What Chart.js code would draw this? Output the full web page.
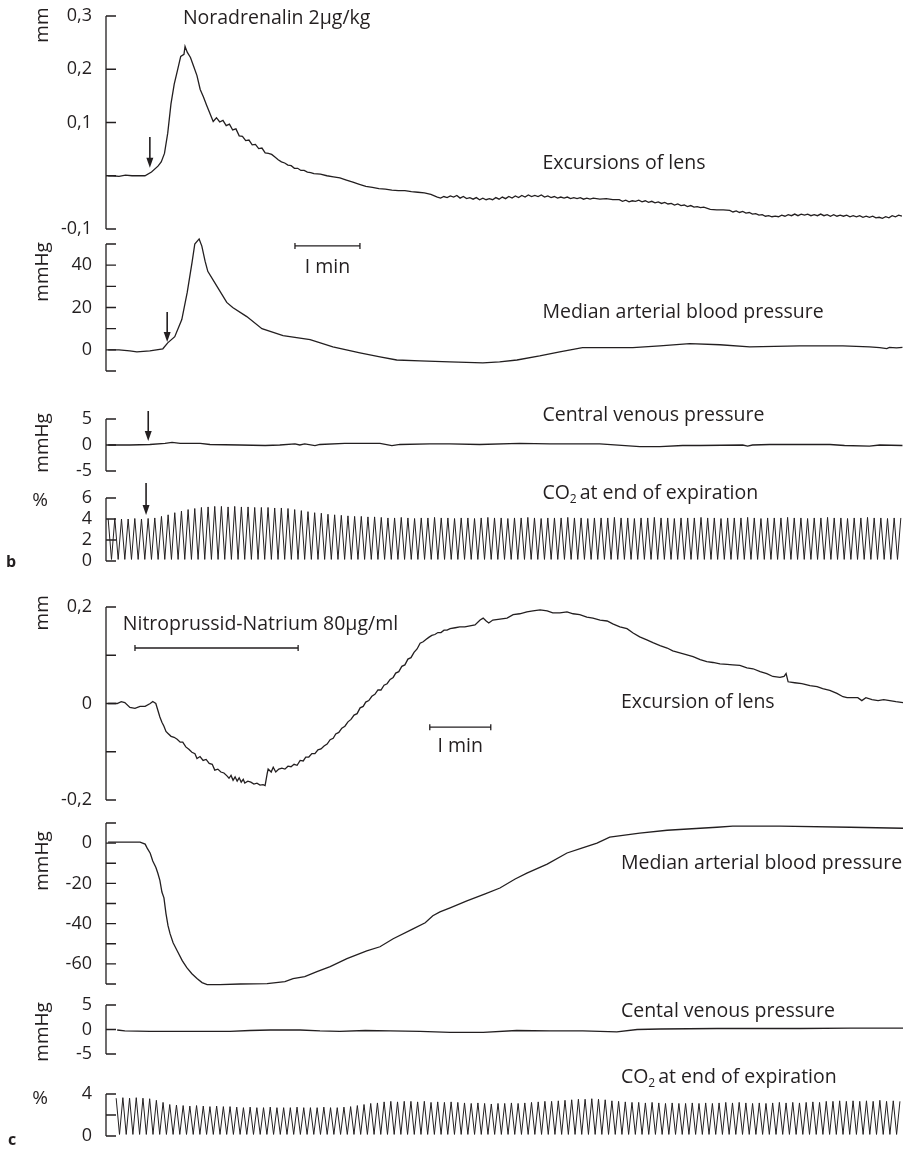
<!DOCTYPE html>
<html>
<head>
<meta charset="utf-8">
<script src="https://cdn.jsdelivr.net/npm/chart.js@4.4.1/dist/chart.umd.min.js"></script>
<style>
  html, body { margin: 0; padding: 0; background: #fff; }
  #figure { position: relative; width: 905px; height: 1149px; overflow: hidden; background: #fff; }
  #figure canvas { position: absolute; left: 0; }
</style>
</head>
<body>
<div id="figure"></div>
<script>
// ---------- b: Noradrenalin 2µg/kg  (time in s, [t, value]) ----------
const lensNoradrenalin = [
  [2,0],[6,0],[12,-0.001],[18,0.001],[24,0],[30,0],[36,0],[42,0.007],[48,0.018],[51,0.026],[54,0.042],[57,0.08],
  [60,0.135],[63,0.172],[66,0.198],[69,0.224],[72,0.228],[73,0.243],[75,0.232],[78,0.222],[81,0.205],[84,0.188],
  [87,0.162],[90,0.148],[93,0.132],[96,0.117],[99,0.102],[102,0.109],[105,0.101],[108,0.104],[111,0.094],[114,0.097],
  [117,0.086],[120,0.088],[123,0.075],[126,0.074],[129,0.066],[132,0.067],[135,0.058],[138,0.059],[141,0.051],[144,0.052],
  [147,0.043],[150,0.042],[153,0.040],[156,0.035],[159,0.030],[162,0.026],[165,0.024],[168,0.020],[171,0.019],[174,0.014],
  [177,0.014],[180,0.010],[183,0.010],[186,0.007],[189,0.006],[192,0.004],[198,0.003],[204,0],[210,-0.002],[216,-0.004],
  [222,-0.008],[228,-0.012],[234,-0.016],[240,-0.020],[246,-0.022],[252,-0.024],[258,-0.025],[264,-0.027],[270,-0.028],
  [276,-0.028],[282,-0.030],[288,-0.031],[294,-0.032],[300,-0.035],[306,-0.040],[309,-0.042],[312,-0.039],[315,-0.041],
  [318,-0.038],[321,-0.040],[324,-0.037],[327,-0.042],[330,-0.039],[333,-0.043],[336,-0.041],[339,-0.044],[342,-0.041],
  [345,-0.045],[348,-0.042],[351,-0.045],[354,-0.043],[357,-0.045],[360,-0.041],[363,-0.044],[366,-0.040],[369,-0.043],
  [372,-0.039],[375,-0.042],[378,-0.038],[381,-0.041],[384,-0.037],[387,-0.040],[390,-0.036],[393,-0.039],[396,-0.037],
  [399,-0.039],[402,-0.036],[405,-0.040],[408,-0.038],[411,-0.041],[414,-0.039],[417,-0.042],[420,-0.040],[423,-0.042],
  [426,-0.040],[429,-0.043],[432,-0.041],[435,-0.043],[438,-0.041],[441,-0.044],[444,-0.042],[447,-0.044],[450,-0.042],
  [456,-0.044],[462,-0.043],[468,-0.045],[474,-0.045],[477,-0.048],[480,-0.046],[483,-0.049],[486,-0.047],[489,-0.048],
  [492,-0.046],[495,-0.049],[498,-0.047],[501,-0.050],[504,-0.048],[507,-0.051],[510,-0.049],[513,-0.052],[516,-0.050],
  [519,-0.053],[522,-0.052],[525,-0.055],[528,-0.053],[531,-0.056],[534,-0.055],[537,-0.058],[540,-0.056],[543,-0.059],
  [546,-0.058],[549,-0.060],[552,-0.059],[558,-0.063],[564,-0.064],[570,-0.064],[576,-0.065],[579,-0.068],[582,-0.066],
  [585,-0.069],[588,-0.067],[591,-0.070],[594,-0.069],[597,-0.072],[600,-0.071],[603,-0.074],[606,-0.073],[609,-0.076],
  [612,-0.075],[615,-0.077],[618,-0.076],[621,-0.077],[624,-0.074],[627,-0.076],[630,-0.073],[633,-0.075],[636,-0.072],
  [639,-0.075],[642,-0.072],[645,-0.074],[648,-0.072],[651,-0.075],[654,-0.073],[657,-0.075],[660,-0.072],[663,-0.075],
  [666,-0.073],[669,-0.076],[672,-0.073],[675,-0.076],[678,-0.074],[681,-0.076],[684,-0.074],[687,-0.077],[690,-0.075],
  [693,-0.077],[696,-0.075],[699,-0.078],[702,-0.076],[705,-0.078],[708,-0.076],[711,-0.079],[714,-0.078],[717,-0.080],
  [720,-0.077],[723,-0.079],[726,-0.075],[729,-0.077],[732,-0.074],[735,-0.076]
];
const mapNoradrenalin = [
  [2,0],[12,0],[22,-0.5],[28.5,-1],[40.5,-0.5],[52.5,0.5],[57,3.3],[63.5,6.2],[70,14.3],[75,27.1],[79.5,41.4],[82,50],
  [86,52.4],[88.5,49],[91.5,41.9],[94,37.1],[102.5,30],[111.5,22.4],[117,20],[130,15.7],[144,10],[163.5,6.7],[188.5,4.8],
  [209.5,1.4],[234.5,-1.4],[253,-3.3],[268.5,-4.8],[290,-5.2],[317.5,-5.7],[348,-6.2],[363.5,-5.7],[379.5,-4.8],
  [400.5,-2.9],[419,-1],[440,1],[486.5,1],[511.5,1.9],[539,2.9],[567,2.4],[594.5,1.4],[640.5,1.9],[680.5,1.9],
  [705,1.4],[714.5,1],[721,0.6],[723.5,1.2],[730,0.9],[735.5,1.2]
];
const cvpNoradrenalin = [
  [2,0],[22,0],[40.5,0.1],[54.5,0.3],[61,0.5],[68.5,0.3],[87,0.3],[96,0.1],[123.5,0],[147,-0.1],[160.5,0],[174.5,0.2],
  [179,0],[183.5,0.2],[193,-0.1],[197.5,0.1],[220.5,0.3],[253,0.3],[264,-0.1],[271.5,0.1],[299,0.2],[317.5,0.2],
  [345,0.1],[382,0.3],[410,0.2],[456,0.2],[493,-0.3],[511.5,-0.3],[532.5,-0.1],[548.5,-0.1],[588,0],[592.5,-0.2],
  [597,0],[613,0.1],[640.5,0.1],[668.5,0.1],[682,-0.1],[705,-0.2],[714.5,0],[735.5,-0.1]
];
// end-expiratory CO2: one peak per breath, trough between breaths
const co2NoradrenalinPeaks = [
  4.0,4.05,4.0,4.0,4.05,4.0,4.05,4.1,4.25,4.4,4.6,4.75,4.9,5.0,5.1,5.15,5.2,5.2,5.15,5.2,
  5.15,5.15,5.1,5.1,5.1,5.05,5.05,5.0,4.9,4.8,4.7,4.6,4.55,4.45,4.4,4.35,4.3,4.25,4.25,4.2,
  4.2,4.15,4.1,4.1,4.15,4.1,4.05,4.1,4.1,4.15,4.1,4.1,4.05,4.1,4.1,4.05,4.1,4.15,4.1,4.1,
  4.05,4.1,4.1,4.15,4.1,4.05,4.1,4.1,4.1,4.15,4.1,4.1,4.05,4.1,4.1,4.1,4.15,4.1,4.1,4.05,
  4.1,4.1,4.15,4.1,4.1,4.05,4.1,4.1,4.1,4.15,4.1,4.1,4.05,4.1,4.1,4.1,4.15,4.1,4.05,4.1,
  4.1,4.1,4.15,4.1,4.1,4.05,4.1,4.1,4.15,4.1,4.1,4.05,4.1,4.1,4.15,4.1,4.1,4.05,4.1,4.1
];
const co2NoradrenalinTrough = 0.15;
const co2NoradrenalinSpan = [2, 734];

// ---------- c: Nitroprussid-Natrium 80µg/ml ----------
const lensNitroprussid = [
  [2,0],[11,0],[15,0.004],[18.5,0.002],[23.5,-0.008],[28.5,-0.010],[33.5,-0.006],[38.5,-0.006],[43.5,0],[46,0.004],
  [49,0],[51,-0.014],[53,-0.028],[55,-0.039],[57,-0.047],[59,-0.058],[61,-0.062],[64,-0.068],[67,-0.070],[70,-0.074],
  [73,-0.080],[75.5,-0.080],[78.5,-0.090],[81.5,-0.095],[84.5,-0.101],[87.5,-0.104],[89.5,-0.114],[92.5,-0.110],
  [95.5,-0.118],[98.5,-0.116],[101.5,-0.124],[104.5,-0.126],[107,-0.138],[110,-0.136],[113,-0.142],[116,-0.144],
  [119,-0.150],[121,-0.155],[123,-0.149],[125,-0.159],[127,-0.152],[129,-0.161],[131,-0.154],[133,-0.163],[135,-0.157],
  [136.5,-0.165],[139.5,-0.161],[142.5,-0.163],[145.5,-0.167],[148.5,-0.165],[151.5,-0.169],[154.5,-0.168],[156.5,-0.170],
  [158.5,-0.146],[159.5,-0.136],[162.5,-0.142],[164.5,-0.132],[167,-0.142],[170,-0.136],[173,-0.134],[176,-0.136],
  [179,-0.130],[182,-0.131],[185,-0.126],[188,-0.128],[191,-0.118],[194,-0.119],[196.5,-0.111],[199.5,-0.111],
  [202.5,-0.104],[205.5,-0.104],[208.5,-0.096],[211.5,-0.094],[214.5,-0.088],[217.5,-0.084],[220.5,-0.075],[223.5,-0.072],
  [226,-0.063],[229,-0.060],[232,-0.051],[235,-0.047],[238,-0.038],[241,-0.033],[244,-0.024],[247,-0.021],[250,-0.009],
  [253,-0.006],[255.5,0.003],[258.5,0.006],[261.5,0.015],[264.5,0.019],[267.5,0.028],[270.5,0.028],[273.5,0.038],
  [276.5,0.041],[279.5,0.050],[282.5,0.054],[285,0.063],[288,0.066],[291,0.077],[294,0.080],[297,0.092],[300,0.095],
  [303,0.106],[306,0.113],[309,0.125],[312,0.128],[315,0.133],[317.5,0.137],[320.5,0.141],[323.5,0.143],[326.5,0.147],
  [329.5,0.147],[332.5,0.152],[335.5,0.152],[338.5,0.155],[343.5,0.157],[348,0.159],[353,0.159],[358,0.161],[363,0.163],
  [368,0.173],[371,0.177],[374,0.171],[376.5,0.167],[380.5,0.173],[387.5,0.175],[394.5,0.177],[400.5,0.184],[407,0.186],
  [414,0.190],[420,0.192],[427,0.194],[434,0.192],[439.5,0.188],[446.5,0.188],[453.5,0.190],[459.5,0.186],[466,0.184],
  [473,0.179],[479,0.177],[486,0.173],[493,0.171],[498.5,0.165],[505.5,0.159],[512.5,0.155],[518.5,0.146],[525,0.138],
  [532,0.132],[538,0.126],[545,0.120],[552,0.115],[557.5,0.109],[564.5,0.105],[571.5,0.101],[577.5,0.097],[584.5,0.091],
  [591,0.087],[597,0.085],[604,0.082],[611,0.081],[616.5,0.080],[623.5,0.079],[630.5,0.074],[636.5,0.072],[643.5,0.066],
  [650,0.062],[656,0.056],[663,0.054],[667,0.056],[669,0.062],[671,0.045],[677.5,0.043],[684.5,0.041],[692.5,0.037],
  [699.5,0.035],[705,0.031],[712,0.027],[719,0.021],[725,0.014],[729,0.012],[735,0.012],[739.5,0.012],[743.5,0.006],
  [747.5,0.012],[753.5,0.008],[759.5,0.006],[765,0.008],[771,0.006],[777,0.004],[784,0.002]
];
const mapNitroprussid = [
  [2,0.5],[11,0.5],[33.5,0.5],[38.5,-0.5],[40.5,-2.5],[43.5,-5],[46,-8.9],[49,-12],[51,-15],[53,-18.5],[55,-24.3],
  [57,-27.2],[59,-35],[61,-41],[63,-45],[66,-49.5],[70,-53.5],[75,-58.4],[79.5,-61.9],[84.5,-64.9],[89.5,-67.3],
  [94.5,-69.3],[99.5,-70.3],[112,-70.3],[132,-70],[158.5,-69.8],[176,-68.8],[184,-67.3],[195.5,-66.3],[207.5,-63.9],
  [220.5,-61.4],[237,-57.4],[256.5,-53.5],[269.5,-51.5],[282.5,-47.5],[302,-42.6],[314,-39.6],[321.5,-36.1],
  [328.5,-34.2],[338.5,-32.2],[355,-28.7],[373,-25.2],[387.5,-22.3],[402.5,-17.8],[414,-14.9],[434,-10.4],
  [453.5,-4.9],[468,-2.5],[483,0],[495.5,3],[525,5],[552,6.4],[584.5,7.4],[601,7.9],[616.5,8.4],[663,8.4],[732,7.9],[784,7.4]
];
const cvpNitroprussid = [
  [11,-0.1],[18.5,-0.3],[43.5,-0.4],[92.5,-0.4],[122,-0.4],[141.5,-0.2],[161.5,-0.1],[191,-0.1],[210.5,-0.3],[230,-0.4],
  [255,-0.2],[279.5,-0.3],[309,-0.4],[338.5,-0.6],[371,-0.6],[404,-0.2],[436.5,-0.3],[469,-0.3],[502.5,-0.5],
  [522.5,0],[545,0.1],[601,0.2],[682.5,0.2],[732,0.3],[784,0.3]
];
const co2NitroprussidPeaks = [
  3.6,3.65,3.6,3.65,3.6,3.55,3.4,3.2,3.0,2.95,2.9,2.85,2.9,2.85,2.8,2.85,2.8,2.8,
  2.75,2.7,2.75,2.7,2.7,2.75,2.7,2.7,2.7,2.75,2.7,2.7,2.7,2.75,2.7,2.7,2.75,2.8,
  2.9,3.0,3.1,3.15,3.25,3.3,3.25,3.3,3.3,3.25,3.3,3.2,3.25,3.2,3.25,
  3.2,3.15,3.1,3.15,3.1,3.05,3.1,3.1,3.15,3.1,3.15,3.2,
  3.25,3.3,3.3,3.35,3.4,3.45,3.5,3.5,3.55,3.5,3.45,3.35,3.3,
  3.25,3.2,3.2,3.15,3.2,3.15,3.1,3.15,3.1,3.1,3.15,3.1,3.15,3.1,3.15,3.2,3.15,3.2,3.15,3.1,3.15,
  3.1,3.15,3.2,3.15,3.2,3.15,3.2,3.25,3.2,3.3,3.3,3.35,3.3,3.35,3.3,3.35,3.3,3.4,3.3,3.35,3.3
];
const co2NitroprussidTrough = 0.15;
const co2NitroprussidSpan = [10, 781];

// labelled ticks on each axis
const ticksLensB = [0.3, 0.2, 0.1, -0.1];
const ticksMapB = [0, 20, 40];
const ticksCvp = [5, 0, -5];
const ticksCo2B = [0, 2, 4, 6];
const ticksLensC = [0.2, 0, -0.2];
const ticksMapC = [0, -20, -40, -60];
const ticksCo2C = [4, 0];

const INK = '#231f20';
const FONT = '"Open Sans", "Noto Sans", sans-serif';
const NOTE_SIZE = 19.5;

function pairs(list) {
    return list.map(function(p) { return { x: p[0], y: p[1] }; });
}

function breaths(peaks, trough, span) {
    var step = (span[1] - span[0]) / (peaks.length - 1);
    var pts = [];
    peaks.forEach(function(p, i) {
        var t = span[0] + i * step;
        pts.push({ x: t, y: p });
        if (i < peaks.length - 1) pts.push({ x: t + step / 2, y: trough });
    });
    return pts;
}

function tickLabel(labelled, decimals) {
    return function(v) {
        if (!labelled.some(function(l) { return Math.abs(l - v) < 1e-6; })) return '';
        if (Math.abs(v) < 1e-9) return '0';
        return decimals ? v.toFixed(decimals).replace('.', ',') : String(Math.round(v));
    };
}

// axis line with inward ticks, notes, arrows and time bars
const decor = {
    id: 'decor',
    afterDatasetsDraw: function(chart, args, o) {
        var ctx = chart.ctx, xs = chart.scales.x, ys = chart.scales.y;
        var left = chart.chartArea.left;
        ctx.save();
        ctx.strokeStyle = INK;
        ctx.fillStyle = INK;
        ctx.lineWidth = 1.3;
        ctx.beginPath();
        ctx.moveTo(left, ys.top);
        ctx.lineTo(left, ys.bottom);
        ys.ticks.forEach(function(t) {
            var py = ys.getPixelForValue(t.value);
            ctx.moveTo(left, py);
            ctx.lineTo(left + 10, py);
        });
        ctx.stroke();

        (o.bars || []).forEach(function(b) {
            var x0 = xs.getPixelForValue(b.t0), x1 = xs.getPixelForValue(b.t1), py = ys.getPixelForValue(b.v);
            ctx.beginPath();
            ctx.moveTo(x0, py); ctx.lineTo(x1, py);
            ctx.moveTo(x0, py - 3); ctx.lineTo(x0, py + 3);
            ctx.moveTo(x1, py - 3); ctx.lineTo(x1, py + 3);
            ctx.stroke();
        });

        (o.arrows || []).forEach(function(a) {
            var px = xs.getPixelForValue(a.t), y0 = ys.getPixelForValue(a.v0), y1 = ys.getPixelForValue(a.v1);
            ctx.lineWidth = 1.6;
            ctx.beginPath();
            ctx.moveTo(px, y0); ctx.lineTo(px, y1 - 8);
            ctx.stroke();
            ctx.beginPath();
            ctx.moveTo(px - 3.5, y1 - 10); ctx.lineTo(px + 3.5, y1 - 10); ctx.lineTo(px, y1);
            ctx.closePath();
            ctx.fill();
        });

        ctx.textBaseline = 'middle';
        (o.notes || []).forEach(function(n) {
            var px = xs.getPixelForValue(n.t), py = ys.getPixelForValue(n.v);
            ctx.font = NOTE_SIZE + 'px ' + FONT;
            ctx.textAlign = n.align || 'left';
            if (n.sub) {
                ctx.textAlign = 'left';
                ctx.fillText(n.text, px, py);
                var w = ctx.measureText(n.text).width;
                ctx.font = '12px ' + FONT;
                ctx.fillText(n.sub, px + w, py + 7);
                var ws = ctx.measureText(n.sub).width;
                ctx.font = NOTE_SIZE + 'px ' + FONT;
                ctx.fillText(n.rest, px + w + ws + 3, py);
            } else {
                ctx.fillText(n.text, px, py);
            }
        });

        (o.titles || []).forEach(function(tt) {
            var px = left + tt.dx, py = ys.getPixelForValue(tt.v);
            ctx.font = (tt.bold ? 'bold ' : '') + (tt.size || 19) + 'px ' + FONT;
            ctx.textAlign = 'center';
            ctx.save();
            ctx.translate(px, py);
            if (tt.rotate) ctx.rotate(-Math.PI / 2);
            ctx.fillText(tt.text, 0, 0);
            ctx.restore();
        });
        ctx.restore();
    }
};

const panels = [
    { top: 16, bottom: 229, xMax: 736, min: -0.1, max: 0.3, step: 0.1, ticks: ticksLensB, dec: 1,
      sets: [{ data: pairs(lensNoradrenalin), width: 1.3 }],
      decor: {
        notes: [{ text: 'Noradrenalin 2µg/kg', t: 71, v: 0.296 },
                { text: 'Excursions of lens', t: 403, v: 0.024 }],
        arrows: [{ t: 40.5, v0: 0.073, v1: 0.015 }],
        titles: [{ text: 'mm', dx: -63, v: 0.283, rotate: true }]
      } },
    { top: 244, bottom: 371, xMax: 736, min: -10, max: 50, step: 10, ticks: ticksMapB, dec: 0,
      sets: [{ data: pairs(mapNoradrenalin), width: 1.3 }],
      decor: {
        notes: [{ text: 'I min', t: 204.5, v: 39.1, align: 'center' },
                { text: 'Median arterial blood pressure', t: 403, v: 17.9 }],
        bars: [{ t0: 174.5, t1: 234.5, v: 49.1 }],
        arrows: [{ t: 56.5, v0: 17.9, v1: 3.7 }],
        titles: [{ text: 'mmHg', dx: -63, v: 36.8, rotate: true }]
      } },
    { top: 419, bottom: 471, xMax: 736, min: -5, max: 5, step: 5, ticks: ticksCvp, dec: 0,
      sets: [{ data: pairs(cvpNoradrenalin), width: 1.3 }],
      decor: {
        notes: [{ text: 'Central venous pressure', t: 403, v: 5.77 }],
        arrows: [{ t: 39, v0: 6.54, v1: 0.77 }],
        titles: [{ text: 'mmHg', dx: -63, v: 0.4, rotate: true }]
      } },
    { top: 498, bottom: 561, xMax: 736, min: 0, max: 6, step: 2, ticks: ticksCo2B, dec: 0,
      sets: [{ data: breaths(co2NoradrenalinPeaks, co2NoradrenalinTrough, co2NoradrenalinSpan), width: 1.0 }],
      decor: {
        notes: [{ text: 'CO', sub: '2', rest: 'at end of expiration', t: 403, v: 6.48 }],
        arrows: [{ t: 37, v0: 7.43, v1: 4.38 }],
        titles: [{ text: '%', dx: -66, v: 5.8 },
                 { text: 'b', dx: -95, v: -0.1, bold: true, size: 16 }]
      } },
    { top: 607, bottom: 800, xMax: 784, min: -0.2, max: 0.2, step: 0.1, ticks: ticksLensC, dec: 1,
      sets: [{ data: pairs(lensNitroprussid), width: 1.3 }],
      decor: {
        notes: [{ text: 'Nitroprussid-Natrium 80µg/ml', t: 16.5, v: 0.163 },
                { text: 'I min', t: 348.5, v: -0.090, align: 'center' },
                { text: 'Excursion of lens', t: 506.5, v: 0.003 }],
        bars: [{ t0: 28.5, t1: 189, v: 0.115 }, { t0: 318.5, t1: 378.5, v: -0.049 }],
        titles: [{ text: 'mm', dx: -63, v: 0.188, rotate: true }]
      } },
    { top: 823, bottom: 984, xMax: 784, min: -70, max: 10, step: 10, ticks: ticksMapC, dec: 0,
      sets: [{ data: pairs(mapNitroprussid), width: 1.3 }],
      decor: {
        notes: [{ text: 'Median arterial blood pressure', t: 506.5, v: -9.9 }],
        titles: [{ text: 'mmHg', dx: -63, v: -8.9, rotate: true }]
      } },
    { top: 1005, bottom: 1054, xMax: 784, min: -5, max: 5, step: 5, ticks: ticksCvp, dec: 0,
      sets: [{ data: pairs(cvpNitroprussid), width: 1.3 }],
      decor: {
        notes: [{ text: 'Cental venous pressure', t: 506.5, v: 3.78 }],
        titles: [{ text: 'mmHg', dx: -63, v: -0.5, rotate: true }]
      } },
    { top: 1094, bottom: 1136, xMax: 784, min: 0, max: 4, step: 2, ticks: ticksCo2C, dec: 0,
      sets: [{ data: breaths(co2NitroprussidPeaks, co2NitroprussidTrough, co2NitroprussidSpan), width: 1.0 }],
      decor: {
        notes: [{ text: 'CO', sub: '2', rest: 'at end of expiration', t: 506.5, v: 5.62 }],
        titles: [{ text: '%', dx: -66, v: 3.6 },
                 { text: 'c', dx: -94, v: -0.38, bold: true, size: 16 }]
      } }
];

const figure = document.getElementById('figure');
const PAD = 40;

panels.forEach(function(p) {
    var cv = document.createElement('canvas');
    var h = p.bottom - p.top + 2 * PAD;
    cv.width = 905;
    cv.height = h;
    cv.style.width = '905px';
    cv.style.height = h + 'px';
    cv.style.top = (p.top - PAD) + 'px';
    figure.appendChild(cv);

    new Chart(cv, {
        type: 'line',
        data: {
            datasets: p.sets.map(function(s) {
                return {
                    data: s.data,
                    borderColor: INK,
                    borderWidth: s.width,
                    pointRadius: 0,
                    tension: 0,
                    fill: false,
                    clip: false
                };
            })
        },
        options: {
            responsive: false,
            animation: false,
            events: [],
            layout: { padding: { top: PAD, bottom: PAD, left: 0, right: 2 } },
            plugins: { legend: { display: false }, tooltip: { enabled: false }, decor: p.decor },
            scales: {
                x: { type: 'linear', min: 0, max: p.xMax, display: false },
                y: {
                    min: p.min,
                    max: p.max,
                    afterFit: function(s) { s.width = 106; },
                    grid: { display: false, drawTicks: false },
                    border: { display: false },
                    ticks: {
                        stepSize: p.step,
                        autoSkip: false,
                        padding: 14,
                        color: INK,
                        font: { family: FONT, size: 18 },
                        callback: tickLabel(p.ticks, p.dec)
                    }
                }
            }
        },
        plugins: [decor]
    });
});
</script>
</body>
</html>
